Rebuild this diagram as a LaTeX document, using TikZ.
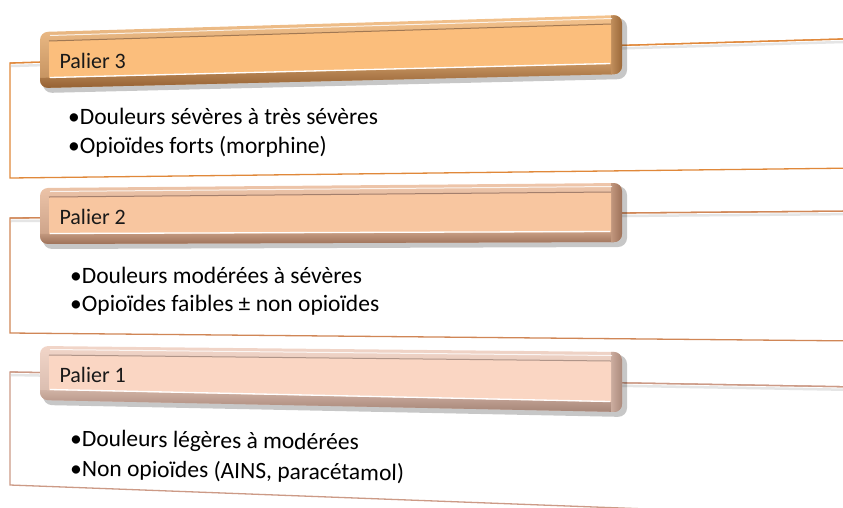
\documentclass[tikz,border=0pt]{standalone}
\usepackage{fontspec}
\setmainfont{Carlito}
\usetikzlibrary{calc}

% colours of the three steps
\definecolor{faceC}{HTML}{FBBE7C}
\definecolor{lightC}{HTML}{F7C690}
\definecolor{darkC}{HTML}{8A5628}
\definecolor{lineC}{HTML}{E0883A}
\definecolor{faceB}{HTML}{F8C6A0}
\definecolor{lightB}{HTML}{F8D0B4}
\definecolor{darkB}{HTML}{8C5F48}
\definecolor{lineB}{HTML}{D08656}
\definecolor{faceA}{HTML}{FAD6C3}
\definecolor{lightA}{HTML}{FBE0D3}
\definecolor{darkA}{HTML}{9C7A6C}
\definecolor{lineA}{HTML}{CC9A86}

% bevelled tab: #1 name, #2 face, #3 light rim, #4 dark rim
\newcommand{\paliertab}[4]{%
  \fill[black, opacity=0.22, rounded corners=9pt]
    ($(#1nw)+(3,4)$) -- ($(#1ne)+(5,3)$) -- ($(#1se)+(5,5)$) -- ($(#1sw)+(3,5)$) -- cycle;
  \begin{scope}
    \clip[rounded corners=8pt] (#1nw) -- (#1ne) -- (#1se) -- (#1sw) -- cycle;
    \shade[top color=#3, bottom color=#4!55!#3] ($(#1nw)+(-5,-20)$) rectangle ($(#1se)+(5,20)$);
    % bottom rim
    \shade[top color=#4!45!#3, bottom color=#4]
      ($(#1sw)+(-5,-10)$) -- ($(#1se)+(5,-10)$) -- ($(#1se)+(5,5)$) -- ($(#1sw)+(-5,5)$) -- cycle;
    % right rim
    \shade[left color=#4!50!#3, right color=#4]
      ($(#1ne)+(-11,-5)$) -- ($(#1ne)+(5,-5)$) -- ($(#1se)+(5,5)$) -- ($(#1se)+(-11,5)$) -- cycle;
    % face
    \fill[#2] ($(#1nw)+(9,9)$) -- ($(#1ne)+(-11,9)$) -- ($(#1se)+(-11,-10)$) -- ($(#1sw)+(9,-10)$) -- cycle;
    \draw[#4!80, line width=1pt] ($(#1nw)+(9,9)$) -- ($(#1ne)+(-11,9)$);
    \draw[white, line width=1.3pt] ($(#1sw)+(10,-10.5)$) -- ($(#1se)+(-12,-10.5)$);
    \draw[white, opacity=0.8, line width=1pt] ($(#1nw)+(10,3.5)$) -- ($(#1ne)+(-10,3.5)$);
  \end{scope}
}

\begin{document}
\begin{tikzpicture}[x=1pt, y=-1pt,
  contentbox/.style={fill=white, line width=1.3pt},
  tabtext/.style={anchor=base west, text=black!90, font=\fontsize{22}{26}\selectfont},
  itemtext/.style={anchor=base west, inner sep=0pt, font=\fontsize{23.5}{28}\selectfont}]
  \useasboundingbox (0,0) rectangle (843,507);
  \clip (0,0) rectangle (843,507);

  % Corners of the three content boxes
  \coordinate (c3nw) at (10,63);   \coordinate (c3ne) at (860,38.5);
  \coordinate (c3sw) at (10,178);  \coordinate (c3se) at (860,168);
  \coordinate (c2nw) at (10,218);  \coordinate (c2ne) at (860,211);
  \coordinate (c2sw) at (10,333);  \coordinate (c2se) at (860,341);
  \coordinate (c1nw) at (10,372);  \coordinate (c1ne) at (860,387);
  \coordinate (c1sw) at (10,485);  \coordinate (c1se) at (860,517);

  % Corners of the three tabs
  \coordinate (t3nw) at (40,32);   \coordinate (t3ne) at (622,15);
  \coordinate (t3sw) at (40,88);   \coordinate (t3se) at (622,74);
  \coordinate (t2nw) at (40,188);  \coordinate (t2ne) at (622,183);
  \coordinate (t2sw) at (40,244);  \coordinate (t2se) at (622,242);
  \coordinate (t1nw) at (40,346);  \coordinate (t1ne) at (622,352);
  \coordinate (t1sw) at (40,400);  \coordinate (t1se) at (622,412);

  % Palier 3
  \filldraw[contentbox, draw=lineC] (c3ne) -- (c3nw) -- (c3sw) -- (c3se);
  \draw[black!10, line width=2.5pt] ($(c3nw)+(1,3)$) -- ($(c3ne)+(0,3)$);
  \draw[lineC, line width=1.3pt] (c3nw) -- (c3ne);
  \paliertab{t3}{faceC}{lightC}{darkC}
  \node[tabtext] (p3) at (56,68) {Palier 3};
  \node[itemtext] (d3) at (68,124) {•Douleurs sévères à très sévères};
  \node[itemtext] (o3) at (68,153) {•Opioïdes forts (morphine)};

  % Palier 2
  \filldraw[contentbox, draw=lineB] (c2ne) -- (c2nw) -- (c2sw) -- (c2se);
  \draw[black!10, line width=2.5pt] ($(c2nw)+(1,3)$) -- ($(c2ne)+(0,3)$);
  \draw[lineB, line width=1.3pt] (c2nw) -- (c2ne);
  \paliertab{t2}{faceB}{lightB}{darkB}
  \node[tabtext] (p2) at (56,224) {Palier 2};
  \node[itemtext] (d2) at (70,283) {•Douleurs modérées à sévères};
  \node[itemtext] (o2) at (70,311) {•Opioïdes faibles ± non opioïdes};

  % Palier 1
  \filldraw[contentbox, draw=lineA] (c1ne) -- (c1nw) -- (c1sw) -- (c1se);
  \draw[black!10, line width=2.5pt] ($(c1nw)+(1,3)$) -- ($(c1ne)+(0,3)$);
  \draw[lineA, line width=1.3pt] (c1nw) -- (c1ne);
  \paliertab{t1}{faceA}{lightA}{darkA}
  \node[tabtext] (p1) at (56,382) {Palier 1};
  \node[itemtext, rotate=-0.8] (d1) at (70,446) {•Douleurs légères à modérées};
  \node[itemtext, rotate=-0.8] (o1) at (70,476) {•Non opioïdes (AINS, paracétamol)};
\end{tikzpicture}
\end{document}
